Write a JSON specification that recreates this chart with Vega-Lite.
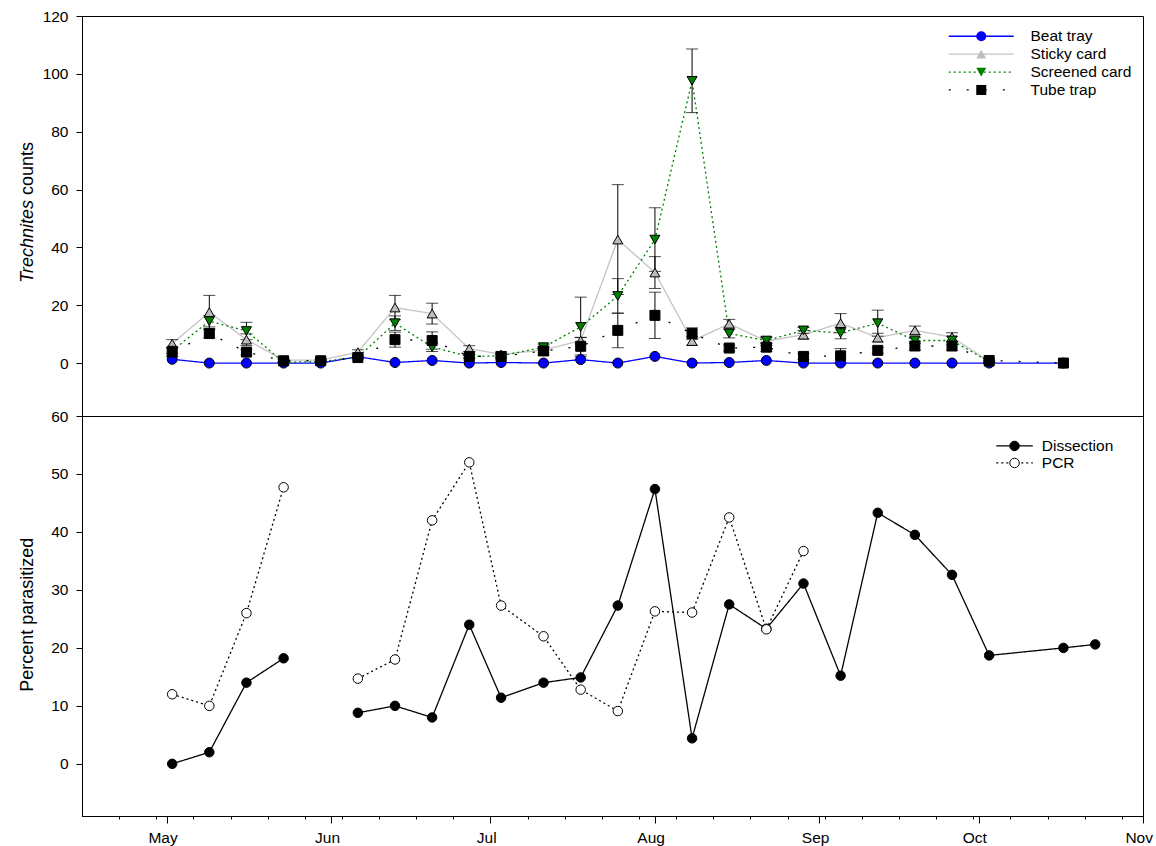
{
  "$schema": "https://vega.github.io/schema/vega-lite/v6.json",
  "background": "white",
  "padding": {"left": 17, "top": 8, "right": 5, "bottom": 5},
  "spacing": 0,
  "bounds": "flush",
  "resolve": {
    "scale": {"fill": "independent", "shape": "independent", "stroke": "independent", "strokeDash": "independent", "x": "independent", "y": "independent"},
    "legend": {"fill": "independent", "shape": "independent", "stroke": "independent", "strokeDash": "independent"}
  },
  "config": {
    "view": {"stroke": "black", "strokeWidth": 1},
    "font": "Liberation Sans",
    "axis": {
      "labelFont": "Liberation Sans", "labelFontSize": 15.5, "labelColor": "black",
      "titleFont": "Liberation Sans", "titleFontSize": 18, "titleFontWeight": "normal", "titleColor": "black",
      "domainColor": "black", "tickColor": "black", "grid": false, "tickSize": 6, "labelPadding": 8
    },
    "legend": {"labelFont": "Liberation Sans", "labelFontSize": 15.5, "labelColor": "black", "padding": 0}
  },
  "datasets": {
    "counts": [
      {"date": "2012/05/02", "trap": "Beat tray", "count": 1.3},
      {"date": "2012/05/09", "trap": "Beat tray", "count": 0},
      {"date": "2012/05/16", "trap": "Beat tray", "count": 0},
      {"date": "2012/05/23", "trap": "Beat tray", "count": 0},
      {"date": "2012/05/30", "trap": "Beat tray", "count": 0},
      {"date": "2012/06/06", "trap": "Beat tray", "count": 2.2},
      {"date": "2012/06/13", "trap": "Beat tray", "count": 0.2},
      {"date": "2012/06/20", "trap": "Beat tray", "count": 0.9},
      {"date": "2012/06/27", "trap": "Beat tray", "count": 0},
      {"date": "2012/07/03", "trap": "Beat tray", "count": 0.2},
      {"date": "2012/07/11", "trap": "Beat tray", "count": 0},
      {"date": "2012/07/18", "trap": "Beat tray", "count": 1.2},
      {"date": "2012/07/25", "trap": "Beat tray", "count": 0},
      {"date": "2012/08/01", "trap": "Beat tray", "count": 2.3},
      {"date": "2012/08/08", "trap": "Beat tray", "count": 0},
      {"date": "2012/08/15", "trap": "Beat tray", "count": 0.2},
      {"date": "2012/08/22", "trap": "Beat tray", "count": 0.9},
      {"date": "2012/08/29", "trap": "Beat tray", "count": 0},
      {"date": "2012/09/05", "trap": "Beat tray", "count": 0},
      {"date": "2012/09/12", "trap": "Beat tray", "count": 0},
      {"date": "2012/09/19", "trap": "Beat tray", "count": 0},
      {"date": "2012/09/26", "trap": "Beat tray", "count": 0},
      {"date": "2012/10/03", "trap": "Beat tray", "count": 0},
      {"date": "2012/10/17", "trap": "Beat tray", "count": 0},

      {"date": "2012/05/02", "trap": "Sticky card", "count": 6.7, "se": 1.4},
      {"date": "2012/05/09", "trap": "Sticky card", "count": 17.6, "se": 5.8},
      {"date": "2012/05/16", "trap": "Sticky card", "count": 8.1, "se": 2.0},
      {"date": "2012/05/23", "trap": "Sticky card", "count": 1.0, "se": 0.5},
      {"date": "2012/05/30", "trap": "Sticky card", "count": 1.0, "se": 0.5},
      {"date": "2012/06/06", "trap": "Sticky card", "count": 3.8, "se": 0.8},
      {"date": "2012/06/13", "trap": "Sticky card", "count": 19.2, "se": 4.2},
      {"date": "2012/06/20", "trap": "Sticky card", "count": 17.1, "se": 3.6},
      {"date": "2012/06/27", "trap": "Sticky card", "count": 5.0, "se": 1.0},
      {"date": "2012/07/03", "trap": "Sticky card", "count": 3.0, "se": 0.6},
      {"date": "2012/07/11", "trap": "Sticky card", "count": 4.5, "se": 1.0},
      {"date": "2012/07/18", "trap": "Sticky card", "count": 7.8, "se": 1.1},
      {"date": "2012/07/25", "trap": "Sticky card", "count": 42.7, "se": 19.0},
      {"date": "2012/08/01", "trap": "Sticky card", "count": 31.3, "se": 5.5},
      {"date": "2012/08/08", "trap": "Sticky card", "count": 7.6, "se": 1.5},
      {"date": "2012/08/15", "trap": "Sticky card", "count": 13.6, "se": 1.5},
      {"date": "2012/08/22", "trap": "Sticky card", "count": 7.6, "se": 1.5},
      {"date": "2012/08/29", "trap": "Sticky card", "count": 9.8, "se": 1.5},
      {"date": "2012/09/05", "trap": "Sticky card", "count": 13.8, "se": 3.3},
      {"date": "2012/09/12", "trap": "Sticky card", "count": 8.8, "se": 1.5},
      {"date": "2012/09/19", "trap": "Sticky card", "count": 11.3, "se": 1.5},
      {"date": "2012/09/26", "trap": "Sticky card", "count": 9.0, "se": 1.5},
      {"date": "2012/10/03", "trap": "Sticky card", "count": 0.5, "se": 0.3},

      {"date": "2012/05/02", "trap": "Screened card", "count": 4.3, "se": 1.0},
      {"date": "2012/05/09", "trap": "Screened card", "count": 14.5, "se": 2.0},
      {"date": "2012/05/16", "trap": "Screened card", "count": 11.1, "se": 3.0},
      {"date": "2012/05/23", "trap": "Screened card", "count": 0.3, "se": 0.3},
      {"date": "2012/05/30", "trap": "Screened card", "count": 0.5, "se": 0.3},
      {"date": "2012/06/06", "trap": "Screened card", "count": 2.0, "se": 0.5},
      {"date": "2012/06/13", "trap": "Screened card", "count": 13.8, "se": 2.5},
      {"date": "2012/06/20", "trap": "Screened card", "count": 5.5, "se": 1.5},
      {"date": "2012/06/27", "trap": "Screened card", "count": 2.3, "se": 0.5},
      {"date": "2012/07/03", "trap": "Screened card", "count": 2.5, "se": 0.5},
      {"date": "2012/07/11", "trap": "Screened card", "count": 5.5, "se": 1.0},
      {"date": "2012/07/18", "trap": "Screened card", "count": 12.5, "se": 10.3},
      {"date": "2012/07/25", "trap": "Screened card", "count": 23.2, "se": 6.0},
      {"date": "2012/08/01", "trap": "Screened card", "count": 42.7, "se": 11.0},
      {"date": "2012/08/08", "trap": "Screened card", "count": 97.6, "se": 11.0},
      {"date": "2012/08/15", "trap": "Screened card", "count": 10.2, "se": 1.5},
      {"date": "2012/08/22", "trap": "Screened card", "count": 7.8, "se": 1.0},
      {"date": "2012/08/29", "trap": "Screened card", "count": 11.3, "se": 1.0},
      {"date": "2012/09/05", "trap": "Screened card", "count": 10.4, "se": 2.0},
      {"date": "2012/09/12", "trap": "Screened card", "count": 13.8, "se": 4.5},
      {"date": "2012/09/19", "trap": "Screened card", "count": 7.8, "se": 1.0},
      {"date": "2012/09/26", "trap": "Screened card", "count": 7.8, "se": 1.5},
      {"date": "2012/10/03", "trap": "Screened card", "count": 0.5, "se": 0.3},

      {"date": "2012/05/02", "trap": "Tube trap", "count": 3.8, "se": 1.5},
      {"date": "2012/05/09", "trap": "Tube trap", "count": 10.2, "se": 1.5},
      {"date": "2012/05/16", "trap": "Tube trap", "count": 3.8, "se": 1.0},
      {"date": "2012/05/23", "trap": "Tube trap", "count": 0.8, "se": 0.5},
      {"date": "2012/05/30", "trap": "Tube trap", "count": 0.8, "se": 0.5},
      {"date": "2012/06/06", "trap": "Tube trap", "count": 1.9, "se": 0.5},
      {"date": "2012/06/13", "trap": "Tube trap", "count": 8.1, "se": 2.6},
      {"date": "2012/06/20", "trap": "Tube trap", "count": 7.8, "se": 3.0},
      {"date": "2012/06/27", "trap": "Tube trap", "count": 2.3, "se": 0.8},
      {"date": "2012/07/03", "trap": "Tube trap", "count": 2.3, "se": 0.8},
      {"date": "2012/07/11", "trap": "Tube trap", "count": 4.2, "se": 1.5},
      {"date": "2012/07/18", "trap": "Tube trap", "count": 5.8, "se": 3.0},
      {"date": "2012/07/25", "trap": "Tube trap", "count": 11.3, "se": 6.0},
      {"date": "2012/08/01", "trap": "Tube trap", "count": 16.5, "se": 8.0},
      {"date": "2012/08/08", "trap": "Tube trap", "count": 10.2, "se": 2.0},
      {"date": "2012/08/15", "trap": "Tube trap", "count": 5.2, "se": 1.0},
      {"date": "2012/08/22", "trap": "Tube trap", "count": 5.5, "se": 1.5},
      {"date": "2012/08/29", "trap": "Tube trap", "count": 2.3, "se": 1.0},
      {"date": "2012/09/05", "trap": "Tube trap", "count": 2.5, "se": 2.5},
      {"date": "2012/09/12", "trap": "Tube trap", "count": 4.4, "se": 1.0},
      {"date": "2012/09/19", "trap": "Tube trap", "count": 5.9, "se": 1.5},
      {"date": "2012/09/26", "trap": "Tube trap", "count": 5.9, "se": 1.5},
      {"date": "2012/10/03", "trap": "Tube trap", "count": 0.9, "se": 0.5},
      {"date": "2012/10/17", "trap": "Tube trap", "count": 0}
    ],
    "parasitism": [
      {"date": "2012/05/02", "method": "Dissection", "pct": 0},
      {"date": "2012/05/09", "method": "Dissection", "pct": 2},
      {"date": "2012/05/16", "method": "Dissection", "pct": 14},
      {"date": "2012/05/23", "method": "Dissection", "pct": 18.2},
      {"date": "2012/05/30", "method": "Dissection", "pct": null},
      {"date": "2012/06/06", "method": "Dissection", "pct": 8.8},
      {"date": "2012/06/13", "method": "Dissection", "pct": 10},
      {"date": "2012/06/20", "method": "Dissection", "pct": 8},
      {"date": "2012/06/27", "method": "Dissection", "pct": 24},
      {"date": "2012/07/03", "method": "Dissection", "pct": 11.4},
      {"date": "2012/07/11", "method": "Dissection", "pct": 14},
      {"date": "2012/07/18", "method": "Dissection", "pct": 14.9},
      {"date": "2012/07/25", "method": "Dissection", "pct": 27.3},
      {"date": "2012/08/01", "method": "Dissection", "pct": 47.4},
      {"date": "2012/08/08", "method": "Dissection", "pct": 4.4},
      {"date": "2012/08/15", "method": "Dissection", "pct": 27.5},
      {"date": "2012/08/22", "method": "Dissection", "pct": 23.3},
      {"date": "2012/08/29", "method": "Dissection", "pct": 31.1},
      {"date": "2012/09/05", "method": "Dissection", "pct": 15.2},
      {"date": "2012/09/12", "method": "Dissection", "pct": 43.3},
      {"date": "2012/09/19", "method": "Dissection", "pct": 39.5},
      {"date": "2012/09/26", "method": "Dissection", "pct": 32.6},
      {"date": "2012/10/03", "method": "Dissection", "pct": 18.7},
      {"date": "2012/10/17", "method": "Dissection", "pct": 20.0},
      {"date": "2012/10/23", "method": "Dissection", "pct": 20.6},

      {"date": "2012/05/02", "method": "PCR", "pct": 12},
      {"date": "2012/05/09", "method": "PCR", "pct": 10},
      {"date": "2012/05/16", "method": "PCR", "pct": 26},
      {"date": "2012/05/23", "method": "PCR", "pct": 47.7},
      {"date": "2012/05/30", "method": "PCR", "pct": null},
      {"date": "2012/06/06", "method": "PCR", "pct": 14.7},
      {"date": "2012/06/13", "method": "PCR", "pct": 18},
      {"date": "2012/06/20", "method": "PCR", "pct": 42},
      {"date": "2012/06/27", "method": "PCR", "pct": 52},
      {"date": "2012/07/03", "method": "PCR", "pct": 27.3},
      {"date": "2012/07/11", "method": "PCR", "pct": 22},
      {"date": "2012/07/18", "method": "PCR", "pct": 12.8},
      {"date": "2012/07/25", "method": "PCR", "pct": 9.1},
      {"date": "2012/08/01", "method": "PCR", "pct": 26.3},
      {"date": "2012/08/08", "method": "PCR", "pct": 26.1},
      {"date": "2012/08/15", "method": "PCR", "pct": 42.5},
      {"date": "2012/08/22", "method": "PCR", "pct": 23.2},
      {"date": "2012/08/29", "method": "PCR", "pct": 36.7}
    ]
  },
  "vconcat": [
    {
      "width": 1061,
      "height": 400,
      "data": {"name": "counts"},
      "resolve": {"axis": {"y": "independent"}},
      "layer": [
        {
          "mark": {"type": "line", "strokeWidth": 1.3},
          "encoding": {
            "x": {"field": "date", "type": "temporal",
                  "scale": {"domain": [{"year": 2012, "month": 4, "date": 15}, {"year": 2012, "month": 11, "date": 1}]},
                  "axis": null},
            "y": {"field": "count", "type": "quantitative",
                  "scale": {"domain": [-18.3, 120], "nice": false, "zero": false},
                  "axis": {"orient": "left", "values": [0, 20, 40, 60, 80, 100, 120], "title": "counts",
                           "titleAlign": "left", "titleBaseline": "alphabetic", "titleX": -49.6, "titleY": 178.5, "titleAngle": -90}},
            "stroke": {"field": "trap", "type": "nominal",
                       "scale": {"domain": ["Beat tray", "Sticky card", "Screened card", "Tube trap"],
                                 "range": ["#0000ff", "#c4c4c4", "#008000", "#000000"]},
                       "legend": {"title": null, "orient": "none", "legendX": 880, "legendY": 12.5,
                                  "symbolType": "M-5,0L5,0", "symbolSize": 169, "symbolStrokeWidth": 1.3,
                                  "symbolOffset": 11.5, "labelOffset": 41.5, "rowPadding": 0.9}},
            "strokeDash": {"field": "trap", "type": "nominal",
                           "scale": {"domain": ["Beat tray", "Sticky card", "Screened card", "Tube trap"],
                                     "range": [[1, 0], [1, 0], [2, 3], [2, 16]]},
                           "legend": {"title": null, "orient": "none", "legendX": 880, "legendY": 12.5,
                                      "symbolType": "M-5,0L5,0", "symbolSize": 169, "symbolStrokeWidth": 1.3,
                                      "symbolOffset": 11.5, "labelOffset": 41.5, "rowPadding": 0.9}}
          }
        },
        {
          "transform": [{"filter": "datum.se > 0"}],
          "mark": {"type": "errorbar", "ticks": true, "size": 12, "thickness": 1, "color": "black"},
          "encoding": {
            "x": {"field": "date", "type": "temporal", "axis": null},
            "y": {"field": "count", "type": "quantitative", "axis": null},
            "yError": {"field": "se"}
          }
        },
        {
          "mark": {"type": "point", "filled": true, "stroke": "black", "strokeWidth": 1, "opacity": 1, "size": 100},
          "encoding": {
            "x": {"field": "date", "type": "temporal", "axis": null},
            "y": {"field": "count", "type": "quantitative",
                  "axis": {"orient": "left", "labels": false, "ticks": false, "domain": false, "title": "Trechnites",
                           "titleFontStyle": "italic", "titleAlign": "right", "titleBaseline": "alphabetic",
                           "titleX": -49.6, "titleY": 183.5, "titleAngle": -90}},
            "fill": {"field": "trap", "type": "nominal", "sort": null,
                     "scale": {"range": ["#0000ff", "#bdbdbd", "#008000", "#000000"]},
                     "legend": {"title": null, "orient": "none", "legendX": 880, "legendY": 12.5,
                                "symbolSize": 100, "symbolStrokeColor": "black", "symbolStrokeWidth": 1,
                                "symbolOffset": 11.5, "labelExpr": "''", "rowPadding": 0.9}},
            "shape": {"field": "trap", "type": "nominal", "sort": null,
                      "scale": {"range": ["circle", "triangle-up", "triangle-down", "square"]},
                      "legend": {"title": null, "orient": "none", "legendX": 880, "legendY": 12.5,
                                 "symbolSize": 100, "symbolStrokeColor": "black", "symbolStrokeWidth": 1,
                                 "symbolOffset": 11.5, "labelExpr": "''", "rowPadding": 0.9}}
          }
        }
      ]
    },
    {
      "width": 1061,
      "height": 400,
      "data": {"name": "parasitism"},
      "resolve": {"axis": {"x": "independent"}},
      "layer": [
        {
          "mark": {"type": "line", "strokeWidth": 1.3, "color": "black", "invalid": "break-paths-show-domains"},
          "encoding": {
            "x": {"field": "date", "type": "temporal",
                  "scale": {"domain": [{"year": 2012, "month": 4, "date": 15}, {"year": 2012, "month": 11, "date": 1}]},
                  "axis": {"orient": "bottom", "title": null, "format": "%b", "tickSize": 7, "labelPadding": 7, "labelOffset": -4.3,
                           "labelFlush": false, "labelOverlap": false,
                           "values": [
                             {"year": 2012, "month": 5, "date": 1}, {"year": 2012, "month": 6, "date": 1},
                             {"year": 2012, "month": 7, "date": 1}, {"year": 2012, "month": 8, "date": 1},
                             {"year": 2012, "month": 9, "date": 1}, {"year": 2012, "month": 10, "date": 1},
                             {"year": 2012, "month": 11, "date": 1}]}},
            "y": {"field": "pct", "type": "quantitative",
                  "scale": {"domain": [-9, 60], "nice": false, "zero": false},
                  "axis": {"orient": "left", "values": [0, 10, 20, 30, 40, 50, 60], "title": "Percent parasitized",
                           "titleBaseline": "alphabetic", "titleX": -49.6, "titleY": 198.3, "titleAngle": -90}},
            "strokeDash": {"field": "method", "type": "nominal",
                           "scale": {"domain": ["Dissection", "PCR"], "range": [[1, 0], [2, 3]]},
                           "legend": {"title": null, "orient": "none", "legendX": 900, "legendY": 22.2,
                                      "symbolType": "M-5,0L5,0", "symbolSize": 53.3, "symbolStrokeColor": "black",
                                      "symbolStrokeWidth": 1.3, "symbolOffset": 24.8, "labelOffset": 19.5, "rowPadding": 0}}
          }
        },
        {
          "mark": {"type": "point", "filled": true, "stroke": "black", "strokeWidth": 1, "opacity": 1, "size": 90, "shape": "circle"},
          "encoding": {
            "x": {"field": "date", "type": "temporal",
                  "axis": {"orient": "bottom", "title": null, "labels": false, "domain": false, "tickSize": 3,
                           "values": [
                             {"year": 2012, "month": 4, "date": 22}, {"year": 2012, "month": 4, "date": 29},
                             {"year": 2012, "month": 5, "date": 6}, {"year": 2012, "month": 5, "date": 13},
                             {"year": 2012, "month": 5, "date": 20}, {"year": 2012, "month": 5, "date": 27},
                             {"year": 2012, "month": 6, "date": 3}, {"year": 2012, "month": 6, "date": 10},
                             {"year": 2012, "month": 6, "date": 17}, {"year": 2012, "month": 6, "date": 24},
                             {"year": 2012, "month": 7, "date": 1}, {"year": 2012, "month": 7, "date": 8},
                             {"year": 2012, "month": 7, "date": 15}, {"year": 2012, "month": 7, "date": 22},
                             {"year": 2012, "month": 7, "date": 29}, {"year": 2012, "month": 8, "date": 5},
                             {"year": 2012, "month": 8, "date": 12}, {"year": 2012, "month": 8, "date": 19},
                             {"year": 2012, "month": 8, "date": 26}, {"year": 2012, "month": 9, "date": 2},
                             {"year": 2012, "month": 9, "date": 9}, {"year": 2012, "month": 9, "date": 16},
                             {"year": 2012, "month": 9, "date": 23}, {"year": 2012, "month": 9, "date": 30},
                             {"year": 2012, "month": 10, "date": 7}, {"year": 2012, "month": 10, "date": 14},
                             {"year": 2012, "month": 10, "date": 21}, {"year": 2012, "month": 10, "date": 28}]}},
            "y": {"field": "pct", "type": "quantitative"},
            "fill": {"field": "method", "type": "nominal", "sort": null,
                     "scale": {"range": ["#000000", "#ffffff"]},
                     "legend": {"title": null, "orient": "none", "legendX": 900, "legendY": 22.2,
                                "symbolSize": 90, "symbolStrokeColor": "black", "symbolStrokeWidth": 1,
                                "symbolOffset": 24.8, "labelExpr": "''", "rowPadding": 0}}
          }
        }
      ]
    }
  ]
}
